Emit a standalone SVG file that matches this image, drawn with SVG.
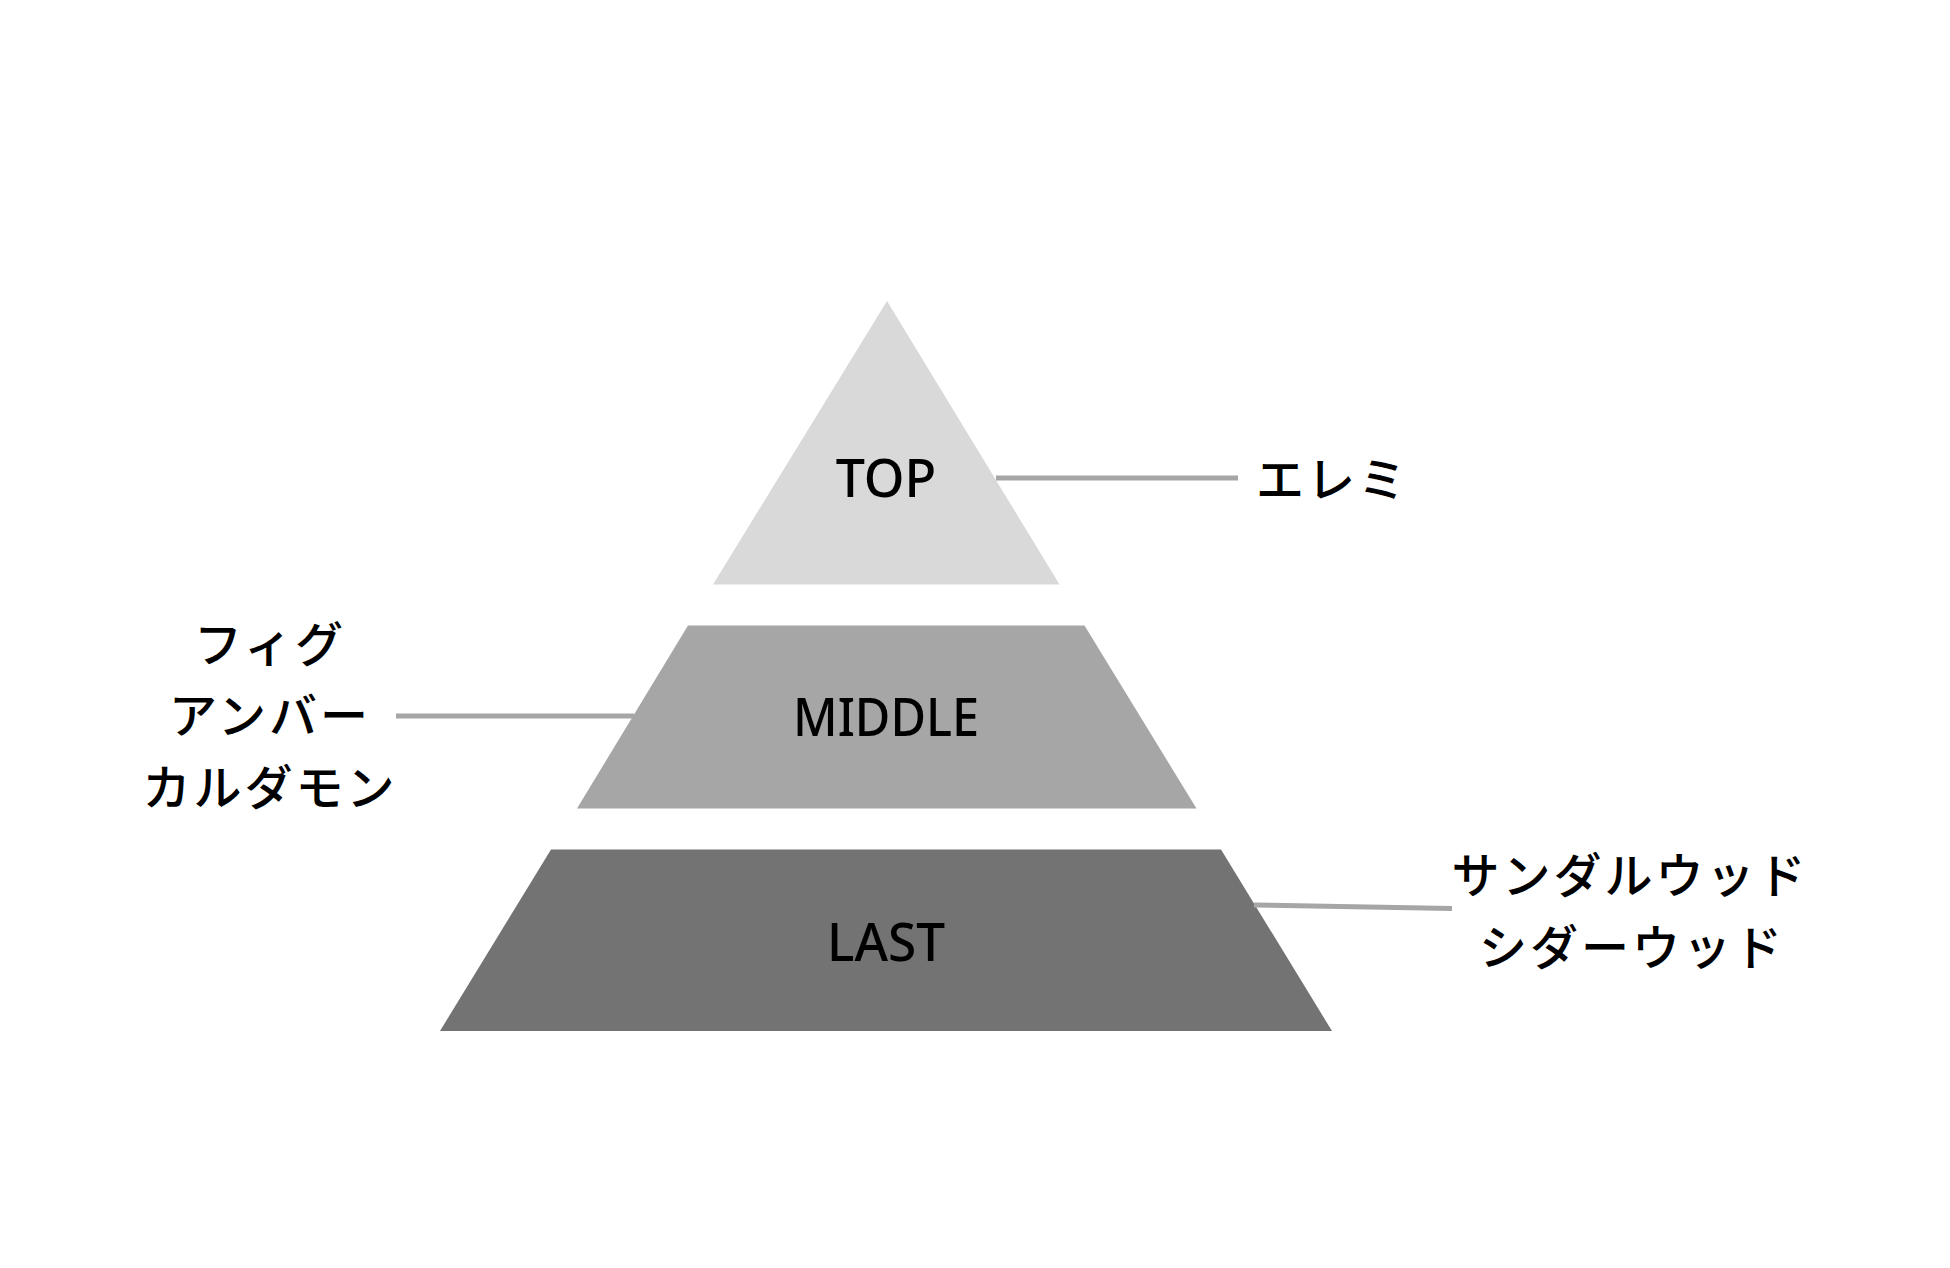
<svg xmlns="http://www.w3.org/2000/svg" width="1950" height="1268" viewBox="0 0 1950 1268">
<style>
.lvl{font-family:"Noto Sans","Open Sans","Liberation Sans",sans-serif;font-size:52px;font-weight:500;fill:#000;text-anchor:middle}
.jp{font-family:"Noto Sans CJK JP","Noto Sans",sans-serif;font-size:48px;font-weight:500;fill:#000;letter-spacing:3px}
.conn{stroke:#a6a6a6;stroke-width:5;fill:none}
</style>
<rect width="1950" height="1268" fill="#fff"/>
<g id="top">
<polygon points="887,301 713,584.5 1059.5,584.5" fill="#d9d9d9"/>
<text class="lvl" x="886" y="497">TOP</text>
</g>
<g id="middle">
<polygon points="688,625.5 1084.5,625.5 1196.5,808.5 577,808.5" fill="#a6a6a6"/>
<text class="lvl" x="886" y="736" font-size="53" textLength="186" lengthAdjust="spacingAndGlyphs">MIDDLE</text>
</g>
<g id="last">
<polygon points="551,849.5 1221,849.5 1332,1031 440,1031" fill="#737373"/>
<text class="lvl" x="886" y="961" textLength="118" lengthAdjust="spacingAndGlyphs">LAST</text>
</g>
<g id="label-top">
<text class="jp" x="1256" y="497">エレミ</text>
</g>
<g id="label-middle">
<text class="jp" x="270" y="662" text-anchor="middle">フィグ</text>
<text class="jp" x="270" y="733" text-anchor="middle">アンバー</text>
<text class="jp" x="270" y="805" text-anchor="middle">カルダモン</text>
</g>
<g id="label-last">
<text class="jp" x="1630" y="893" text-anchor="middle">サンダルウッド</text>
<text class="jp" x="1632" y="965" text-anchor="middle">シダーウッド</text>
</g>
<g id="connectors">
<line class="conn" x1="996" y1="478" x2="1238" y2="478"/>
<line class="conn" x1="396" y1="716" x2="634" y2="716"/>
<line class="conn" x1="1254" y1="905" x2="1452" y2="908.5"/>
</g>
</svg>
